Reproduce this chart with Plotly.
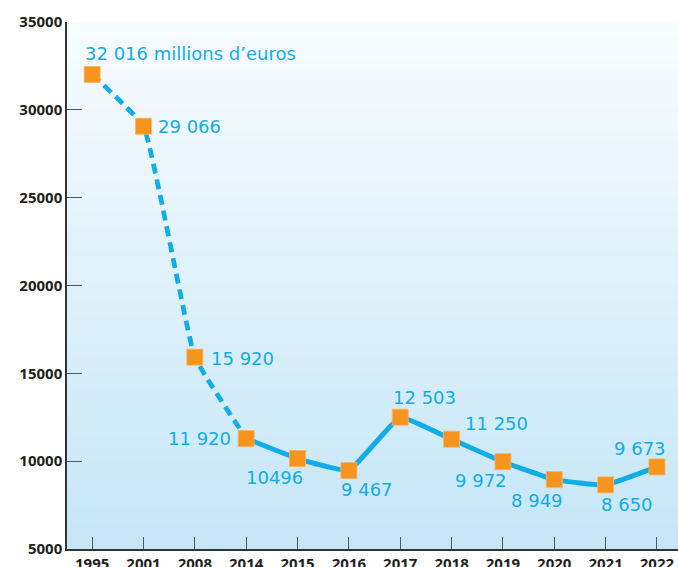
import plotly.graph_objects as go

years = ["1995", "2001", "2008", "2014", "2015", "2016", "2017", "2018", "2019", "2020", "2021", "2022"]
values = [32016, 29066, 15920, 11290, 10150, 9467, 12503, 11250, 9972, 8949, 8650, 9673]
labels = ["32 016 millions d\u2019euros", "29 066", "15 920", "11 920", "10496", "9 467",
          "12 503", "11 250", "9 972", "8 949", "8 650", "9 673"]
y_ticks = [5000, 10000, 15000, 20000, 25000, 30000, 35000]

BLUE = "#12ade8"
ORANGE = "#f7941d"

fig = go.Figure()

# dashed early part (1995-2014)
fig.add_trace(go.Scatter(x=years[:4], y=values[:4], mode="lines",
                         line=dict(color=BLUE, width=4.7, dash="10px,6px", shape="spline", smoothing=0.3),
                         hoverinfo="skip", showlegend=False))
# solid later part (2014-2022)
fig.add_trace(go.Scatter(x=years[3:], y=values[3:], mode="lines",
                         line=dict(color=BLUE, width=5, shape="spline", smoothing=0.3),
                         hoverinfo="skip", showlegend=False))
# markers
fig.add_trace(go.Scatter(x=years, y=values, mode="markers",
                         marker=dict(symbol="square", size=16, color=ORANGE,
                                     line=dict(color="#fbb35f", width=0.8)),
                         hoverinfo="skip", showlegend=False))

# label offsets (pixels) relative to each point: (xshift, yshift, xanchor)
offsets = [(-9, 21, "left"), (12, 0, "left"), (14, -1, "left"), (-13, 0, "right"),
           (-23, -19, "center"), (18, -19, "center"), (24, 20, "center"), (11, 16, "left"),
           (-22, -19, "center"), (-17, -21, "center"), (21, -20, "center"), (-17, 18, "center")]
annotations = []
for i, (t, (dx, dy, xa)) in enumerate(zip(labels, offsets)):
    annotations.append(dict(x=i, y=values[i], xref="x", yref="y", text=t, showarrow=False,
                            xshift=dx, yshift=dy, xanchor=xa, yanchor="middle",
                            font=dict(family="DejaVu Sans", size=18, color=BLUE)))

# vertical gradient background for plot area
shapes = []
n = 80
top = (248, 252, 254)
bot = (197, 230, 247)
for i in range(n):
    f = i / (n - 1)
    c = tuple(round(top[k] + (bot[k] - top[k]) * f) for k in range(3))
    shapes.append(dict(type="rect", xref="paper", yref="paper", x0=0, x1=1,
                       y0=1 - (i + 1) / n, y1=min(1.0, 1 - i / n + 0.002),
                       fillcolor="rgb(%d,%d,%d)" % c, line=dict(width=0), layer="below"))

fig.update_layout(
    template="none",
    width=678, height=567,
    margin=dict(l=67, r=0, t=22, b=18, autoexpand=False),
    paper_bgcolor="white", plot_bgcolor="rgba(0,0,0,0)",
    showlegend=False,
    hovermode=False,
    shapes=shapes,
    annotations=annotations,
    xaxis=dict(type="category", categoryorder="array", categoryarray=years,
               range=[-0.49, 11.41], showgrid=False, zeroline=False,
               showline=True, linecolor="#333333", linewidth=1.5,
               ticks="inside", ticklen=12, tickcolor="#555555", tickwidth=1.3,
               tickfont=dict(family="Open Sans", size=15, color="#231f20", weight="bold"),
               automargin=False),
    yaxis=dict(range=[5000, 35000], tickvals=y_ticks, ticktext=[str(v) for v in y_ticks],
               showgrid=False, zeroline=False,
               showline=True, linecolor="#333333", linewidth=1.5,
               ticks="inside", ticklen=15, tickcolor="#555555", tickwidth=1.3,
               tickfont=dict(family="Open Sans", size=15, color="#231f20", weight="bold"),
               automargin=False),
)

fig.write_html("out.html", config={"displayModeBar": False},
               post_script="document.body.style.margin='0';document.body.style.overflow='hidden';")
